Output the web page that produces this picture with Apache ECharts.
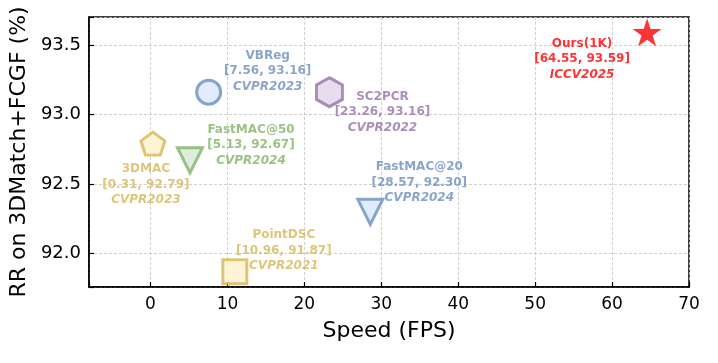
<!DOCTYPE html>
<html>
<head>
<meta charset="utf-8">
<script src="https://cdn.jsdelivr.net/npm/echarts@6/dist/echarts.min.js"></script>
<style>
  html, body { margin: 0; padding: 0; background: #fff; }
  #chart { width: 718px; height: 363px; }
</style>
</head>
<body>
<div id="chart"></div>
<script>
// method data
var methods = ['Ours(1K)', 'VBReg', 'SC2PCR', 'FastMAC@50', '3DMAC', 'FastMAC@20', 'PointDSC'];
var speed = [64.55, 7.56, 23.26, 5.13, 0.31, 28.57, 10.96];
var rr = [93.59, 93.16, 93.16, 92.67, 92.79, 92.30, 91.87];
var venues = ['ICCV2025', 'CVPR2023', 'CVPR2022', 'CVPR2024', 'CVPR2023', 'CVPR2024', 'CVPR2021'];

// marker styles
var starPath = 'path://M0,-1L0.2245,-0.309L0.951,-0.309L0.363,0.118L0.588,0.809L0,0.382L-0.588,0.809L-0.363,0.118L-0.951,-0.309L-0.2245,-0.309Z';
var pentPath = 'path://M0,-1L0.951,-0.309L0.588,0.809L-0.588,0.809L-0.951,-0.309Z';
var hexPath = 'path://M0,-1L0.866,-0.5L0.866,0.5L0,1L-0.866,0.5L-0.866,-0.5Z';
var symbols = [starPath, 'circle', hexPath, 'triangle', pentPath, 'triangle', 'rect'];
var sizes = [[29, 28], 24, [26, 29], 25, [24, 23], 25, 24];
var rotates = [0, 0, 0, 180, 0, 180, 0];
var edge = ['#ff0000', '#6c8ebf', '#9673a6', '#82b366', '#d6b656', '#6c8ebf', '#d6b656'];
var fill = ['#ff0000', '#dae8fc', '#e1d5e7', '#d5e8d4', '#fff2cc', '#dae8fc', '#fff2cc'];
var offsets = [[-65, 27], [59, -21], [53, 20], [61, -15], [-7, 41], [49, -29], [49, -21]];

var chart = echarts.init(document.getElementById('chart'));

var series = [];
for (var i = 0; i < methods.length; i++) {
    series.push({
        name: methods[i],
        type: 'scatter',
        data: [[speed[i], rr[i]]],
        symbol: symbols[i],
        symbolSize: sizes[i],
        symbolRotate: rotates[i],
        itemStyle: {
            color: fill[i],
            borderColor: edge[i],
            borderWidth: i === 0 ? 0 : 3
        },
        label: {
            show: true,
            position: 'inside',
            offset: offsets[i],
            align: 'center',
            verticalAlign: 'middle',
            color: edge[i],
            fontFamily: 'DejaVu Sans',
            fontSize: 12,
            fontWeight: 'bold',
            lineHeight: 15.5,
            formatter: (function (k) {
                return function () {
                    return methods[k] + '\n[' + speed[k].toFixed(2) + ', ' + rr[k].toFixed(2) + ']\n{it|' + venues[k] + '}';
                };
            })(i),
            rich: {
                it: { fontStyle: 'italic', fontWeight: 'bold', fontSize: 12, color: edge[i], fontFamily: 'DejaVu Sans', lineHeight: 15.5 }
            }
        },
        emphasis: { disabled: true },
        z: 3
    });
}

var option = {
    backgroundColor: '#fff',
    animation: false,
    grid: {
        left: 86, right: 29, top: 17, bottom: 76,
        show: true,
        borderColor: '#000',
        borderWidth: 1.5
    },
    xAxis: {
        type: 'value',
        min: -8,
        max: 70,
        splitNumber: 8,
        name: 'Speed (FPS)',
        nameLocation: 'middle',
        nameGap: 33,
        nameTextStyle: { fontFamily: 'DejaVu Sans', fontSize: 22, color: '#000' },
        axisLine: { onZero: false, lineStyle: { color: '#000', width: 1.5 } },
        axisTick: { inside: true, length: 5, lineStyle: { color: '#000', width: 1.2 } },
        axisLabel: {
            fontFamily: 'DejaVu Sans', fontSize: 17, color: '#000', margin: 9,
            formatter: function (v) { return Math.abs(v % 10) < 1e-6 ? String(v) : ''; }
        },
        splitLine: { show: true, lineStyle: { color: '#c4c4c4', type: [3, 2], width: 0.8 } }
    },
    yAxis: {
        type: 'value',
        min: 91.76,
        max: 93.70,
        splitNumber: 4,
        name: 'RR on 3DMatch+FCGF (%)',
        nameLocation: 'middle',
        nameGap: 52,
        nameTextStyle: { fontFamily: 'DejaVu Sans', fontSize: 22, color: '#000' },
        axisLine: { onZero: false, lineStyle: { color: '#000', width: 1.5 } },
        axisTick: { inside: true, length: 5, lineStyle: { color: '#000', width: 1.2 } },
        axisLabel: {
            fontFamily: 'DejaVu Sans', fontSize: 18, color: '#000', margin: 8,
            formatter: function (v) {
                var r = Math.round(v * 2) / 2;
                return Math.abs(v - r) < 1e-6 ? r.toFixed(1) : '';
            }
        },
        splitLine: { show: true, lineStyle: { color: '#c4c4c4', type: [3, 2], width: 0.8 } }
    },
    series: series
};

chart.setOption(option);
</script>
</body>
</html>
